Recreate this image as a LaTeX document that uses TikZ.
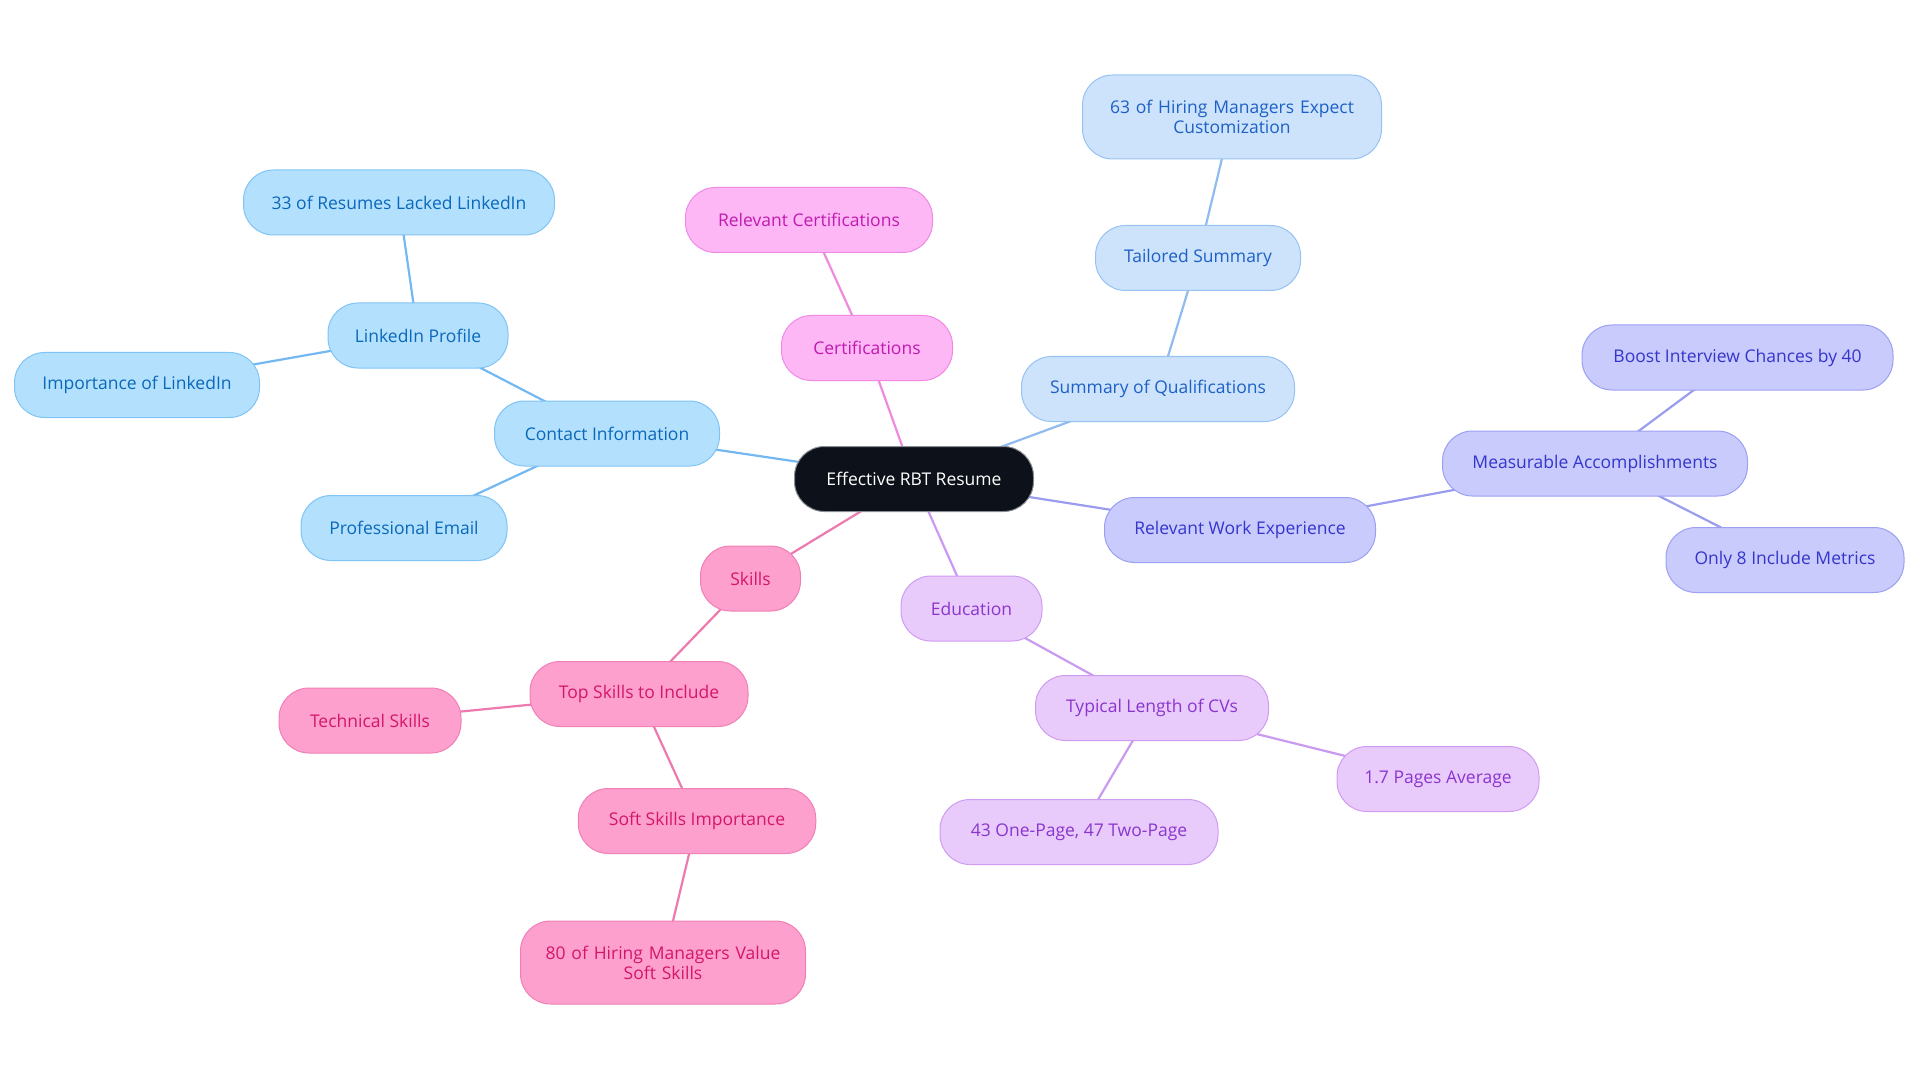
\documentclass[tikz,border=0pt]{standalone}
\usepackage{fontspec}
\setmainfont{Open Sans}
\usetikzlibrary{backgrounds}
\definecolor{rootfill}{HTML}{0D121A}
\definecolor{rootdraw}{HTML}{8A8D92}
\definecolor{cfill}{HTML}{B3E0FD}\definecolor{cdraw}{HTML}{80C4F5}\definecolor{ctext}{HTML}{0A68BA}\definecolor{cline}{HTML}{73B8F0}
\definecolor{sfill}{HTML}{CCE3FB}\definecolor{sdraw}{HTML}{98C2F2}\definecolor{stext}{HTML}{1E60C6}\definecolor{sline}{HTML}{90BBF0}
\definecolor{wfill}{HTML}{C8CBFB}\definecolor{wdraw}{HTML}{9CA0F2}\definecolor{wtext}{HTML}{3535CC}\definecolor{wline}{HTML}{9A9CF0}
\definecolor{efill}{HTML}{E8CBFB}\definecolor{edraw}{HTML}{CF9CF2}\definecolor{etext}{HTML}{8A35CE}\definecolor{eline}{HTML}{C99AF0}
\definecolor{kfill}{HTML}{FDA0CD}\definecolor{kdraw}{HTML}{F080B5}\definecolor{ktext}{HTML}{D4166B}\definecolor{kline}{HTML}{EE79AF}
\definecolor{mfill}{HTML}{FDB7F5}\definecolor{mdraw}{HTML}{F08AE4}\definecolor{mtext}{HTML}{C21AB0}\definecolor{mline}{HTML}{F08AE0}
\tikzset{
  box/.style={rounded corners=30pt, minimum height=65pt, inner sep=0pt, line width=1pt, align=center, font=\fontsize{17.5}{20}\selectfont},
  rootbox/.style={box, fill=rootfill, draw=rootdraw, text=white},
  cbox/.style={box, fill=cfill, draw=cdraw, text=ctext},
  sbox/.style={box, fill=sfill, draw=sdraw, text=stext},
  wbox/.style={box, fill=wfill, draw=wdraw, text=wtext},
  ebox/.style={box, fill=efill, draw=edraw, text=etext},
  kbox/.style={box, fill=kfill, draw=kdraw, text=ktext},
  mbox/.style={box, fill=mfill, draw=mdraw, text=mtext},
  link/.style={line width=2.2pt}
}
\begin{document}
\begin{tikzpicture}[x=1pt,y=-1pt]
\useasboundingbox (0,0) rectangle (1920,1083);
\node[rootbox, minimum width=239pt] (root) at (914,479) {Effective RBT Resume};
% contact
\node[cbox, minimum width=225pt] (contact) at (607,433.5) {Contact Information};
\node[cbox, minimum width=180pt] (linkedin) at (418,335.5) {LinkedIn Profile};
\node[cbox, minimum width=311pt] (lacked) at (399,202.5) {33 of Resumes Lacked LinkedIn};
\node[cbox, minimum width=245pt] (importance) at (137,385) {Importance of LinkedIn};
\node[cbox, minimum width=206pt] (email) at (404,528) {Professional Email};
% certifications
\node[mbox, minimum width=171pt] (cert) at (867,348) {Certifications};
\node[mbox, minimum width=247pt] (relcert) at (809,220) {Relevant Certifications};
% summary
\node[sbox, minimum width=273pt] (summary) at (1158,389) {Summary of Qualifications};
\node[sbox, minimum width=205pt] (tailored) at (1198,258) {Tailored Summary};
\node[sbox, minimum width=299pt, minimum height=84pt, text width=280pt] (expect) at (1232,117) {63 of Hiring Managers Expect\\ Customization};
% work
\node[wbox, minimum width=271pt] (work) at (1240,530) {Relevant Work Experience};
\node[wbox, minimum width=305pt] (measure) at (1595,463.5) {Measurable Accomplishments};
\node[wbox, minimum width=311pt] (boost) at (1737.5,357.5) {Boost Interview Chances by 40};
\node[wbox, minimum width=238pt] (metrics) at (1785,560) {Only 8 Include Metrics};
% education
\node[ebox, minimum width=141pt] (edu) at (971.5,608.5) {Education};
\node[ebox, minimum width=233pt] (typical) at (1152,708) {Typical Length of CVs};
\node[ebox, minimum width=202pt] (pages) at (1438,779) {1.7 Pages Average};
\node[ebox, minimum width=278pt] (onepage) at (1079,832) {43 One-Page, 47 Two-Page};
% skills
\node[kbox, minimum width=100pt] (skills) at (750.5,578.5) {Skills};
\node[kbox, minimum width=218pt] (top) at (639,694) {Top Skills to Include};
\node[kbox, minimum width=182pt] (tech) at (370,720.5) {Technical Skills};
\node[kbox, minimum width=237.5pt] (soft) at (697,821) {Soft Skills Importance};
\node[kbox, minimum width=285pt, minimum height=83pt, text width=270pt] (value) at (663,962.5) {80 of Hiring Managers Value\\ Soft Skills};
\begin{scope}[on background layer]
\draw[link, cline] (root.center) -- (contact.center);
\draw[link, cline] (contact.center) -- (linkedin.center);
\draw[link, cline] (linkedin.center) -- (lacked.center);
\draw[link, cline] (linkedin.center) -- (importance.center);
\draw[link, cline] (contact.center) -- (email.center);
\draw[link, mline] (root.center) -- (cert.center);
\draw[link, mline] (cert.center) -- (relcert.center);
\draw[link, sline] (root.center) -- (summary.center);
\draw[link, sline] (summary.center) -- (tailored.center);
\draw[link, sline] (tailored.center) -- (expect.center);
\draw[link, wline] (root.center) -- (work.center);
\draw[link, wline] (work.center) -- (measure.center);
\draw[link, wline] (measure.center) -- (boost.center);
\draw[link, wline] (measure.center) -- (metrics.center);
\draw[link, eline] (root.center) -- (edu.center);
\draw[link, eline] (edu.center) -- (typical.center);
\draw[link, eline] (typical.center) -- (pages.center);
\draw[link, eline] (typical.center) -- (onepage.center);
\draw[link, kline] (root.center) -- (skills.center);
\draw[link, kline] (skills.center) -- (top.center);
\draw[link, kline] (top.center) -- (tech.center);
\draw[link, kline] (top.center) -- (soft.center);
\draw[link, kline] (soft.center) -- (value.center);
\end{scope}
\end{tikzpicture}
\end{document}
